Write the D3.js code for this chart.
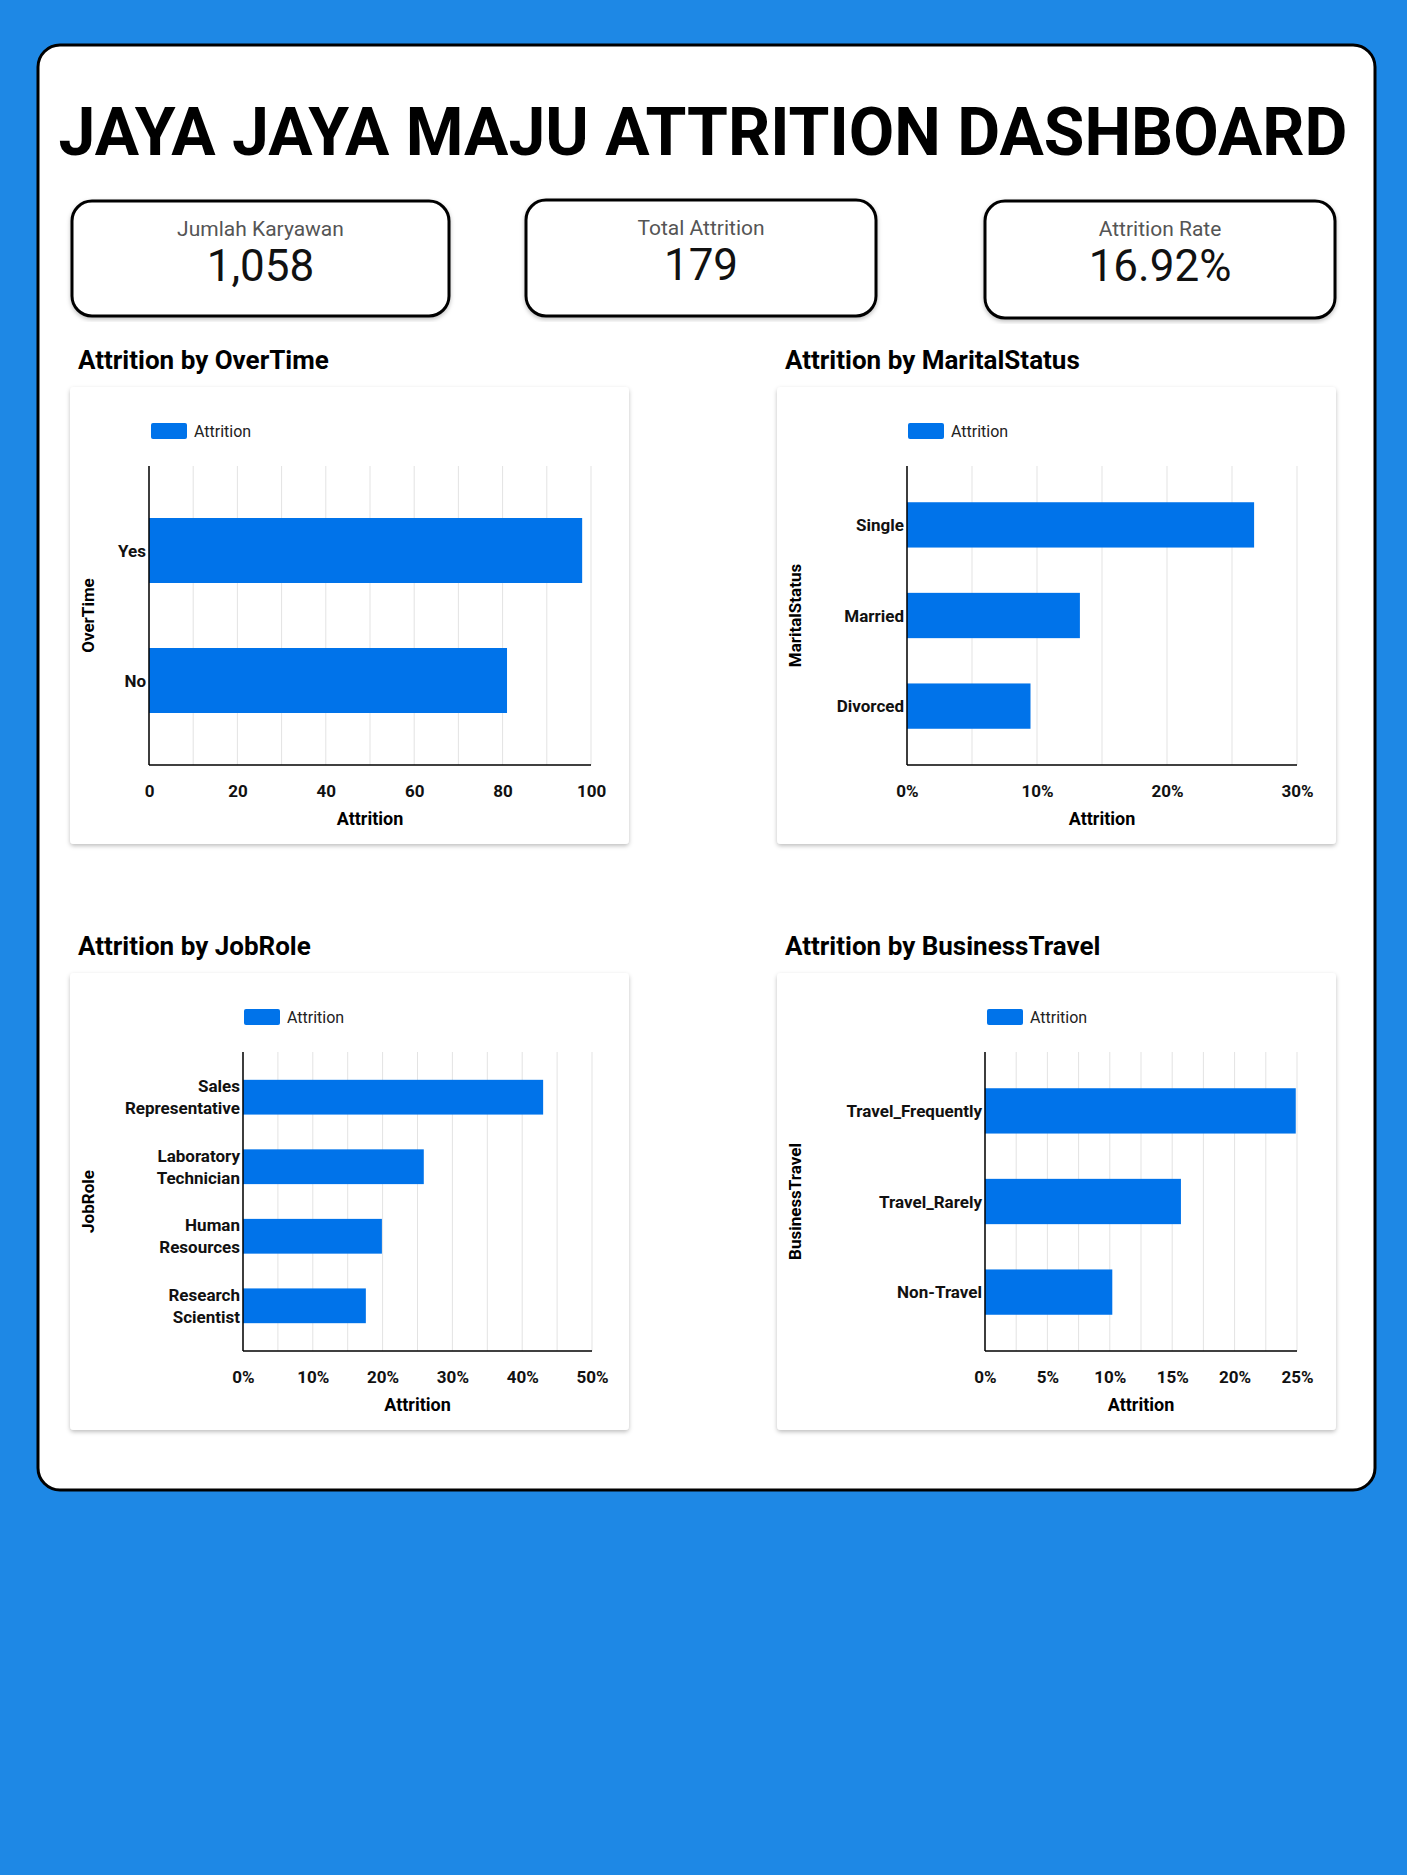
<!DOCTYPE html>
<html><head><meta charset="utf-8">
<script src="https://cdn.jsdelivr.net/npm/d3@7"></script>
<style>body{margin:0;background:#1e88e5;font-family:Roboto,sans-serif}</style>
</head><body>
<svg id="s" width="1407" height="1875"></svg>
<script>
const overtimeCats=["Yes","No"], overtimeVals=[98,81];
const maritalCats=["Single","Married","Divorced"], maritalVals=[0.267,0.133,0.095];
const jobCats=[["Sales","Representative"],["Laboratory","Technician"],["Human","Resources"],["Research","Scientist"]], jobVals=[0.43,0.259,0.199,0.176];
const travelCats=["Travel_Frequently","Travel_Rarely","Non-Travel"], travelVals=[0.249,0.157,0.102];
const kpiLabels=["Jumlah Karyawan","Total Attrition","Attrition Rate"], kpiValues=["1,058","179","16.92%"];

const svg=d3.select("#s");
const defs=svg.append("defs");
const f=defs.append("filter").attr("id","sh").attr("x","-5%").attr("y","-5%").attr("width","110%").attr("height","110%");
f.append("feDropShadow").attr("dx",0).attr("dy",2).attr("stdDeviation",2).attr("flood-color","#000").attr("flood-opacity",0.25);
svg.append("rect").attr("width",1407).attr("height",1875).attr("fill","#1e88e5");
svg.append("rect").attr("x",38).attr("y",45).attr("width",1337).attr("height",1445).attr("rx",22).attr("fill","#fff").attr("stroke","#000").attr("stroke-width",3);
svg.append("text").attr("x",703).attr("y",132).attr("text-anchor","middle").attr("dominant-baseline","central")
 .attr("font-size",66).attr("font-weight",700).text("JAYA JAYA MAJU ATTRITION DASHBOARD");
const kpiBox=[[72,201,377,115],[526,200,350,116],[985,201,350,117]];
kpiBox.forEach((b,i)=>{
 svg.append("rect").attr("x",b[0]).attr("y",b[1]).attr("width",b[2]).attr("height",b[3]).attr("rx",20).attr("fill","#fff").attr("stroke","#000").attr("stroke-width",3).attr("filter","url(#sh)");
 svg.append("text").attr("x",b[0]+b[2]/2).attr("y",b[1]+28).attr("text-anchor","middle").attr("dominant-baseline","central").attr("font-size",21).attr("fill","#555").text(kpiLabels[i]);
 svg.append("text").attr("x",b[0]+b[2]/2).attr("y",b[1]+65).attr("text-anchor","middle").attr("dominant-baseline","central").attr("font-size",44).attr("fill","#111").text(kpiValues[i]);
});
const BAR="#0073ea";
function chart(o){
 svg.append("text").attr("x",o.px+8).attr("y",o.py-27).attr("dominant-baseline","central").attr("font-size",26).attr("font-weight",700).text(o.title);
 svg.append("rect").attr("x",o.px).attr("y",o.py).attr("width",559).attr("height",457).attr("rx",4).attr("fill","#fff").attr("filter","url(#sh)");
 const g=svg.append("g");
 const x=d3.scaleLinear().domain([0,o.max]).range([o.x0,o.x1]);
 const y=d3.scaleBand().domain(o.cats.map((d,i)=>i)).range([o.y0,o.y1]).paddingInner(o.pad).paddingOuter(o.pad/2+0.15);
 // legend
 g.append("rect").attr("x",o.lx).attr("y",o.py+36).attr("width",36).attr("height",16).attr("rx",2).attr("fill",BAR);
 g.append("text").attr("x",o.lx+43).attr("y",o.py+44).attr("dominant-baseline","central").attr("font-size",16).attr("fill","#222").text("Attrition");
 g.selectAll(".gr").data(d3.range(0,o.max+1e-9,o.grid)).join("line").attr("x1",d=>x(d)).attr("x2",d=>x(d)).attr("y1",o.y0).attr("y2",o.y1).attr("stroke","#e3e3e3");
 g.selectAll(".b").data(o.vals).join("rect").attr("x",x(0)).attr("y",(d,i)=>y(i)).attr("height",y.bandwidth()).attr("width",d=>x(d)-x(0)).attr("fill",BAR);
 g.append("line").attr("x1",o.x0).attr("x2",o.x0).attr("y1",o.y0).attr("y2",o.y1).attr("stroke","#000").attr("stroke-width",1.5);
 g.append("line").attr("x1",o.x0).attr("x2",o.x1).attr("y1",o.y1).attr("y2",o.y1).attr("stroke","#000").attr("stroke-width",1.5);
 const ax=g.append("g").attr("transform",`translate(0,${o.y1})`).call(d3.axisBottom(x).tickValues(o.ticks).tickFormat(o.fmt).tickSize(0).tickPadding(20));
 ax.select(".domain").remove();
 ax.selectAll("text").attr("font-size",17).attr("font-weight",700).attr("font-family","Roboto").attr("fill","#111");
 g.append("text").attr("x",(o.x0+o.x1)/2).attr("y",o.y1+53).attr("text-anchor","middle").attr("dominant-baseline","central").attr("font-size",18).attr("font-weight",700).text("Attrition");
 o.cats.forEach((c,i)=>{
  const lines=Array.isArray(c)?c:[c];
  const t=g.append("text").attr("x",o.x0-4).attr("text-anchor","end").attr("font-size",17).attr("font-weight",700).attr("fill","#111");
  lines.forEach((l,k)=>t.append("tspan").attr("x",o.x0-3).attr("y",y(i)+y.bandwidth()/2+(k-(lines.length-1)/2)*22).attr("dominant-baseline","central").text(l));
 });
 g.append("text").attr("transform",`translate(${o.px+18},${(o.y0+o.y1)/2}) rotate(-90)`).attr("text-anchor","middle").attr("dominant-baseline","central").attr("font-size",17).attr("font-weight",700).text(o.ytitle);
}
const pct=d3.format(".0%");
chart({title:"Attrition by OverTime",px:70,py:387,x0:149,x1:591,y0:466,y1:765,lx:151,cats:overtimeCats,vals:overtimeVals,max:100,grid:10,ticks:[0,20,40,60,80,100],fmt:d3.format("d"),pad:0.5,ytitle:"OverTime"});
chart({title:"Attrition by MaritalStatus",px:777,py:387,x0:907,x1:1297,y0:466,y1:765,lx:908,cats:maritalCats,vals:maritalVals,max:0.3,grid:0.05,ticks:[0,0.1,0.2,0.3],fmt:pct,pad:0.5,ytitle:"MaritalStatus"});
chart({title:"Attrition by JobRole",px:70,py:973,x0:243,x1:592,y0:1052,y1:1351,lx:244,cats:jobCats,vals:jobVals,max:0.5,grid:0.05,ticks:[0,0.1,0.2,0.3,0.4,0.5],fmt:pct,pad:0.5,ytitle:"JobRole"});
chart({title:"Attrition by BusinessTravel",px:777,py:973,x0:985,x1:1297,y0:1052,y1:1351,lx:987,cats:travelCats,vals:travelVals,max:0.25,grid:0.025,ticks:[0,0.05,0.1,0.15,0.2,0.25],fmt:pct,pad:0.5,ytitle:"BusinessTravel"});
</script></body></html>
